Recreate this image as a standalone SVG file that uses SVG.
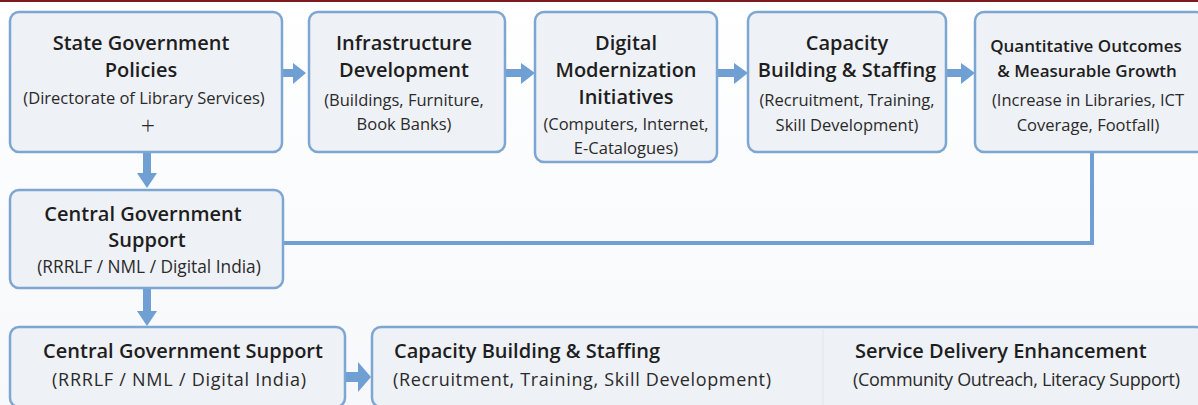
<svg xmlns="http://www.w3.org/2000/svg" width="1198" height="405" viewBox="0 0 1198 405">
<style>
.box{fill:#eef1f6;stroke:#7da6d2;stroke-width:2.5}
.t{font-family:"Open Sans","Noto Sans",sans-serif;font-weight:600;font-size:20px;fill:#1e1e1e;text-anchor:middle}
.s{font-family:"Open Sans","Noto Sans",sans-serif;font-size:16.5px;fill:#2a2a2a;text-anchor:middle}
.b{font-size:18px}
.l{text-anchor:start}
.arr{fill:#6f9fd3}
.ln{fill:none;stroke:#6f9fd3;stroke-width:4}
</style>
<defs>
<linearGradient id="bg" x1="0" y1="0" x2="0" y2="1"><stop offset="0" stop-color="#ffffff"/><stop offset="1" stop-color="#f6f8fb"/></linearGradient>
</defs>
<rect width="1198" height="405" fill="url(#bg)"/>
<rect width="1198" height="2" fill="#7a1a1a"/>
<g id="connectors">
<path class="arr" d="M282 69 H293 V63 L306 73 L293 84 V77 H282 Z"/>
<path class="arr" d="M505 69 H521 V63 L535 73 L521 84 V77 H505 Z"/>
<path class="arr" d="M717 69 H734 V63 L748 73 L734 84 V77 H717 Z"/>
<path class="arr" d="M946 69 H961 V63 L975 73 L961 84 V77 H946 Z"/>
<path class="arr" d="M143 152 V173 H137 L147 188 L157 173 H151 V152 Z"/>
<path class="arr" d="M143 288 V311 H137 L147 326 L157 311 H151 V288 Z"/>
<path class="arr" d="M345 372 H358 V362 L371 377 L358 392 V382 H345 Z"/>
<path class="arr" d="M810 370 H829 V361 L843 375 L829 389 V380 H810 Z"/>
<path class="ln" d="M1092 151 V243 H283"/>
</g>
<g id="n1">
<rect class="box" x="10" y="12" width="272" height="140" rx="9"/>
<text class="t" x="141" y="50">State Government</text>
<text class="t" x="141" y="77">Policies</text>
<text class="s" x="144" y="104">(Directorate of Library Services)</text>
<text class="s" x="148" y="135" style="font-size:25px;font-weight:300">+</text>
</g>
<g id="n2">
<rect class="box" x="309" y="12" width="196" height="140" rx="9"/>
<text class="t" x="404" y="50">Infrastructure</text>
<text class="t" x="404" y="77">Development</text>
<text class="s" x="404" y="106">(Buildings, Furniture,</text>
<text class="s" x="404" y="130">Book Banks)</text>
</g>
<g id="n3">
<rect class="box" x="535" y="12" width="182" height="150" rx="9"/>
<text class="t" x="626" y="50">Digital</text>
<text class="t" x="626" y="77">Modernization</text>
<text class="t" x="626" y="104">Initiatives</text>
<text class="s" x="626" y="130">(Computers, Internet,</text>
<text class="s" x="626" y="154">E-Catalogues)</text>
</g>
<g id="n4">
<rect class="box" x="748" y="12" width="198" height="140" rx="9"/>
<text class="t" x="847" y="50">Capacity</text>
<text class="t" x="847" y="77">Building &amp; Staffing</text>
<text class="s" x="847" y="106">(Recruitment, Training,</text>
<text class="s" x="847" y="131">Skill Development)</text>
</g>
<g id="n5">
<rect class="box" x="975" y="12" width="230" height="140" rx="9"/>
<text class="t" x="1086" y="52" style="font-size:17px">Quantitative Outcomes</text>
<text class="t" x="1087" y="77" style="font-size:17px">&amp; Measurable Growth</text>
<text class="s" x="1088" y="106">(Increase in Libraries, ICT</text>
<text class="s" x="1088" y="131">Coverage, Footfall)</text>
</g>
<g id="n6">
<rect class="box" x="10" y="190" width="273" height="98" rx="9"/>
<text class="t" x="143" y="221">Central Government</text>
<text class="t" x="147" y="247">Support</text>
<text class="s" x="149" y="273" style="font-size:17.3px">(RRRLF / NML / Digital India)</text>
</g>
<g id="n7">
<rect class="box" x="10" y="327" width="335" height="80" rx="9"/>
<text class="t" x="183" y="358">Central Government Support</text>
<text class="s b" x="179" y="386" textLength="254" lengthAdjust="spacing">(RRRLF / NML / Digital India)</text>
</g>
<g id="n8">
<rect class="box" x="372" y="327" width="833" height="80" rx="9"/>
<line x1="823" y1="328" x2="823" y2="405" stroke="#e2e6ec" stroke-width="1"/>
<text class="t l" x="394" y="358">Capacity Building &amp; Staffing</text>
<text class="s b l" x="393" y="386" textLength="378" lengthAdjust="spacing">(Recruitment, Training, Skill Development)</text>
<text class="t l" x="855" y="358">Service Delivery Enhancement</text>
<text class="s b l" x="853" y="386" textLength="327" lengthAdjust="spacing">(Community Outreach, Literacy Support)</text>
</g>
</svg>
